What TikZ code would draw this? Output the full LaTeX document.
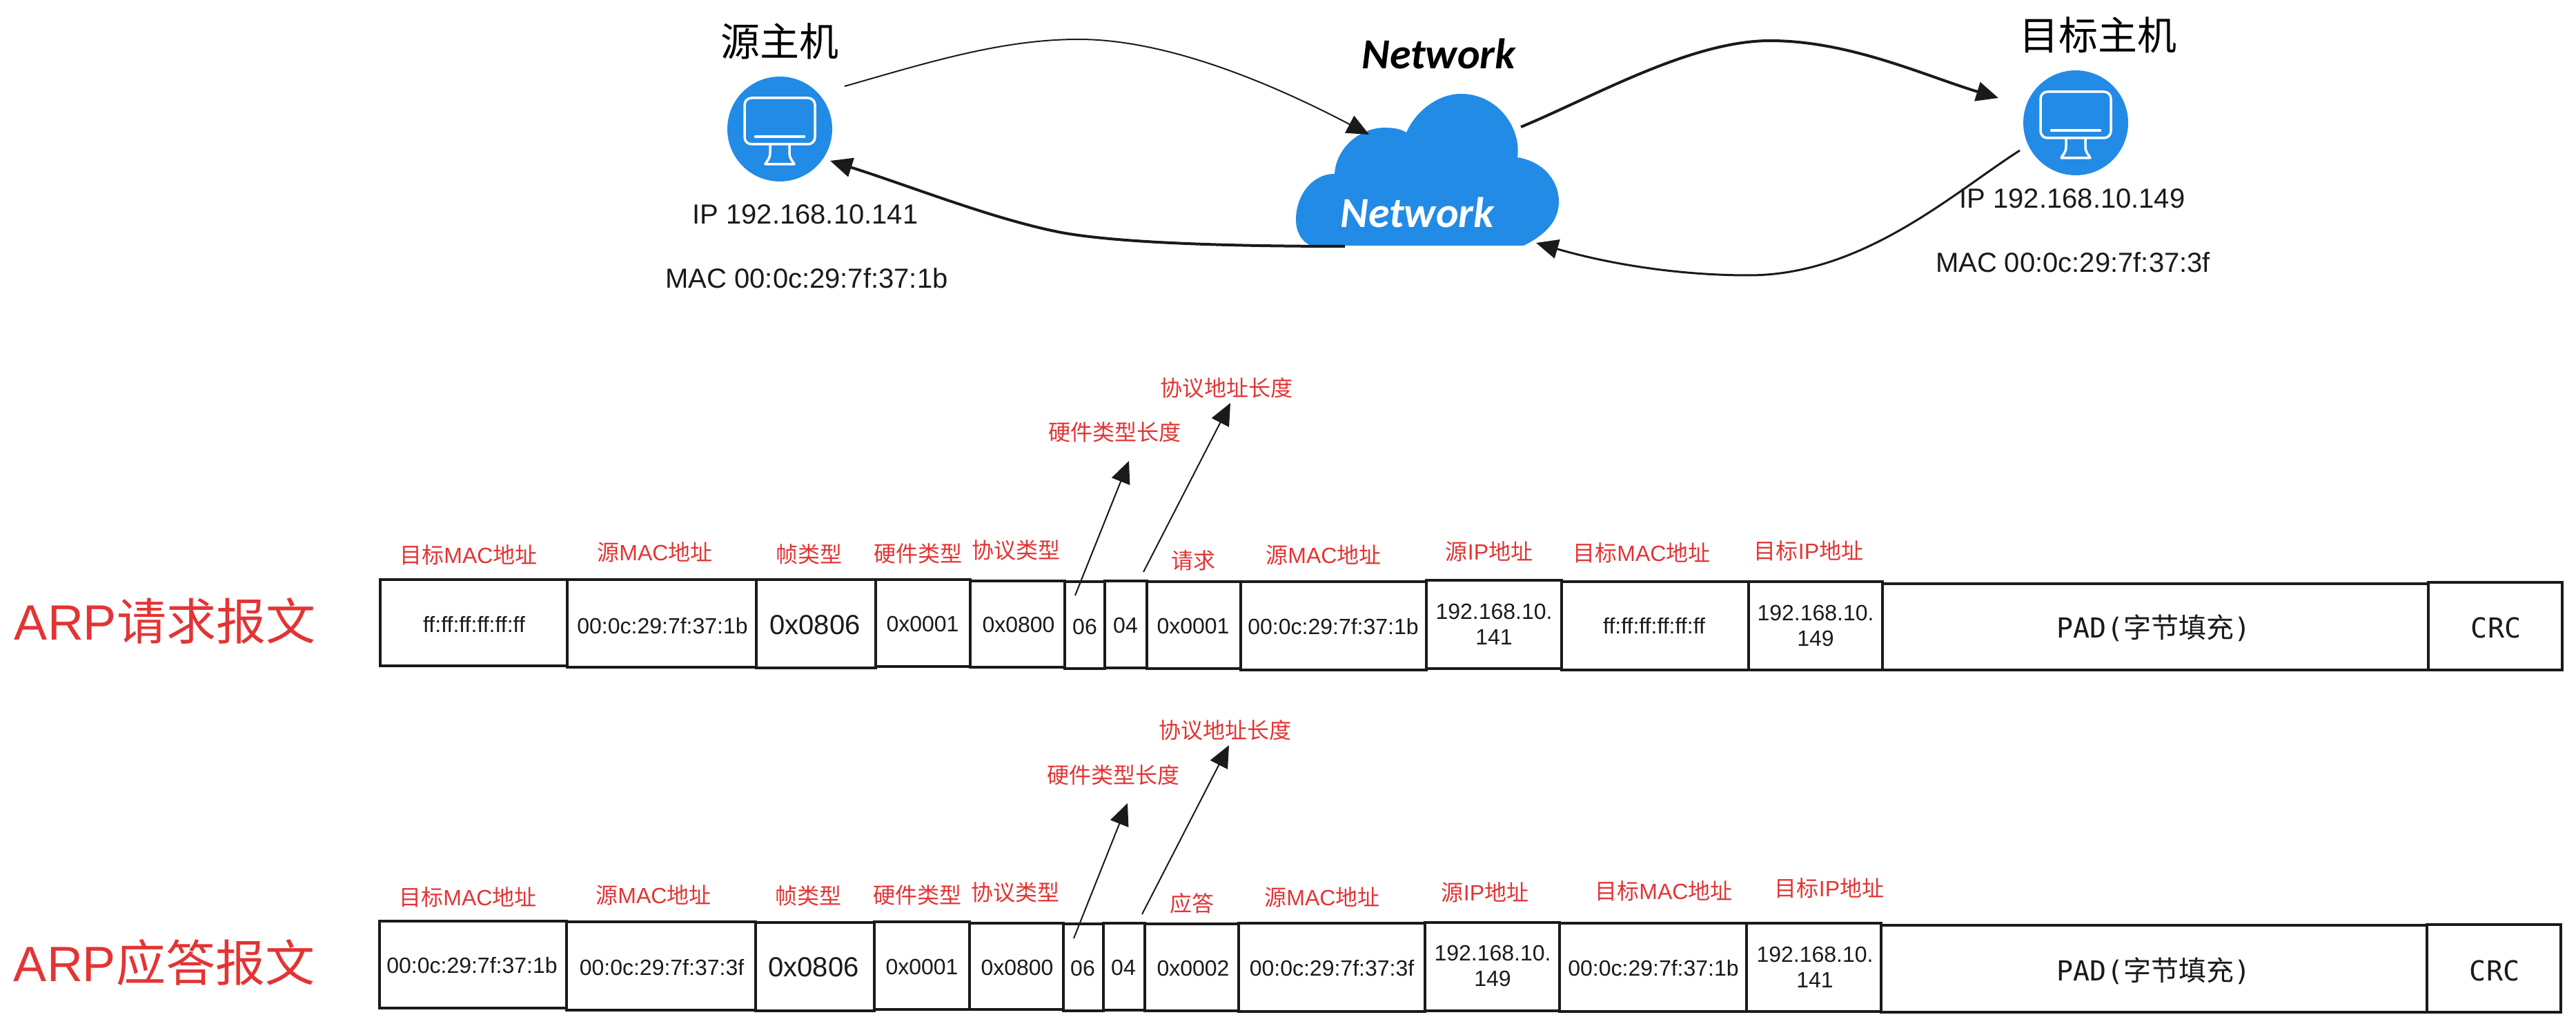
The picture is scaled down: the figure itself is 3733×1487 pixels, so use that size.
\documentclass[tikz,border=0pt]{standalone}
\usepackage{fontspec}
\setmainfont{Liberation Sans}
\newfontfamily\cj{Noto Sans CJK SC}
\newfontfamily\padfont{DejaVu Sans Mono}
\newfontfamily\handfont{Carlito}
\usetikzlibrary{arrows.meta}
\definecolor{inkc}{HTML}{1A1A1A}
\definecolor{redc}{HTML}{E33434}
\definecolor{bluec}{HTML}{228BE6}
\newcommand{\C}[1]{{\cj #1}}
\tikzset{
  fieldbox/.style={draw=inkc,line width=4.5pt,inner sep=0pt,fill=white},
  fieldtext/.style={text=inkc,inner sep=0pt,align=center,font=\fontsize{32}{37}\selectfont},
  fieldbig/.style={text=inkc,inner sep=0pt,font=\fontsize{40}{46}\selectfont},
  padtext/.style={text=inkc,inner sep=0pt,font=\fontsize{40}{46}\selectfont\padfont},
  redlabel/.style={text=redc,inner sep=0pt,font=\fontsize{32}{37}\selectfont},
  rowtitle/.style={text=redc,inner sep=0pt,font=\fontsize{72}{80}\selectfont},
  hosttitle/.style={text=black,inner sep=0pt,font=\fontsize{57}{64}\selectfont\cj},
  hostinfo/.style={text=inkc,inner sep=0pt,font=\fontsize{40}{46}\selectfont},
  handtext/.style={inner sep=0pt,font=\fontsize{62}{70}\selectfont\handfont\bfseries\itshape},
  host/.style={circle,fill=bluec,draw=none,minimum size=152pt,inner sep=0pt},
  tipped/.style={-{Triangle[length=32pt,width=28pt]},draw=inkc,line join=round},
  icon/.style={draw=white,line width=3.5pt,line join=round,line cap=round},
}
% name, x0, y0, x1, y1
\newcommand{\fld}[5]{\node[fieldbox,minimum width={(#4-#2)*1pt},minimum height={(#5-#3)*1pt}] (#1) at ({(#2+#4)/2},{(#3+#5)/2}) {};}
% name, style, x, y, text
\newcommand{\txt}[5]{\node[#2] (#1) at (#3,#4) {#5};}
\newcommand{\monitor}[2]{\begin{scope}[shift={(#1,#2)}]
  \draw[icon,rounded corners=10pt] (-51,-45) rectangle (51,22);
  \draw[icon,line width=4.5pt] (-35,11) -- (35,11);
  \draw[icon] (-14,22) -- (-14,34) .. controls (-14,44) and (-19,46) .. (-21,51) -- (21,51) .. controls (19,46) and (14,44) .. (14,34) -- (14,22);
\end{scope}}
\begin{document}
\begin{tikzpicture}[x=1pt,y=-1pt]
\useasboundingbox (0,0) rectangle (3733,1487);
% hosts
\node[host] (src) at (1130,187) {};
\monitor{1130}{187}
\node[host] (dst) at (3008,178) {};
\monitor{3008}{178}
\txt{srct}{hosttitle}{1130}{60}{源主机}
\txt{dstt}{hosttitle}{3040}{51}{目标主机}
\txt{srcip}{hostinfo}{1167}{311}{IP 192.168.10.141}
\txt{srcmac}{hostinfo}{1169}{403}{MAC 00:0c:29:7f:37:1b}
\txt{dstip}{hostinfo}{3003}{288}{IP 192.168.10.149}
\txt{dstmac}{hostinfo}{3004}{380}{MAC 00:0c:29:7f:37:3f}
% cloud
\fill[bluec] (1900,356) .. controls (1885,350) and (1878,335) .. (1878,318)
  .. controls (1878,285) and (1900,252) .. (1934,252)
  .. controls (1936,215) and (1970,185) .. (2007,185)
  .. controls (2020,185) and (2030,187) .. (2038,192)
  .. controls (2052,160) and (2085,136) .. (2117,136)
  .. controls (2170,136) and (2205,185) .. (2199,228)
  .. controls (2240,235) and (2259,265) .. (2259,292)
  .. controls (2259,320) and (2240,340) .. (2208,356) -- cycle;
\coordinate (cloudin) at (1984,195);
\coordinate (cloudout) at (1949,357);
\coordinate (cloudout2) at (2204,184);
\coordinate (cloudin2) at (2226,352);
\coordinate (srcout) at (1224,125);
\coordinate (srcin) at (1203,233);
\coordinate (dstin) at (2896,142);
\coordinate (dstout) at (2927,218);
\txt{nettop}{handtext,text=black}{2085}{78}{Network}
\txt{netin}{handtext,text=white}{2054}{308}{Network}
% curves
\draw[tipped,line width=2pt] (srcout) .. controls (1340,92) and (1450,57) .. (1563,57) .. controls (1700,57) and (1860,130) .. (cloudin);
\draw[tipped,line width=4pt] (cloudout) .. controls (1780,357) and (1620,352) .. (1538,337) .. controls (1440,318) and (1320,270) .. (srcin);
\draw[tipped,line width=4pt] (cloudout2) .. controls (2310,140) and (2450,59) .. (2565,59) .. controls (2680,59) and (2790,110) .. (dstin);
\draw[tipped,line width=3pt] (dstout) .. controls (2830,280) and (2700,399) .. (2534,399) .. controls (2440,399) and (2340,385) .. (cloudin2);
% request row
\txt{reqtitle}{rowtitle}{239}{900}{ARP\C{请求报文}}
\fld{a1}{551}{840}{822}{965}
\fld{a2}{822}{840}{1096}{967}
\fld{a3}{1096}{840}{1269}{968}
\fld{a4}{1269}{840}{1406}{966}
\fld{a5}{1406}{842}{1543}{967}
\fld{a6}{1543}{843}{1601}{969}
\fld{a7}{1601}{842}{1662}{968}
\fld{a8}{1662}{843}{1798}{969}
\fld{a9}{1798}{843}{2067}{971}
\fld{a10}{2067}{841}{2263}{969}
\fld{a11}{2263}{843}{2534}{971}
\fld{a12}{2534}{843}{2728}{971}
\fld{a13}{2728}{846}{3519}{971}
\fld{a14}{3519}{844}{3713}{971}
\txt{at1}{fieldtext}{687}{905}{ff:ff:ff:ff:ff:ff}
\txt{at2}{fieldtext}{960}{907}{00:0c:29:7f:37:1b}
\txt{at3}{fieldbig}{1181}{906}{0x0806}
\txt{at4}{fieldtext}{1337}{904}{0x0001}
\txt{at5}{fieldtext}{1476}{905}{0x0800}
\txt{at6}{fieldtext}{1572}{908}{06}
\txt{at7}{fieldtext}{1631}{906}{04}
\txt{at8}{fieldtext}{1729}{907}{0x0001}
\txt{at9}{fieldtext}{1932}{908}{00:0c:29:7f:37:1b}
\txt{at10}{fieldtext}{2165}{905}{192.168.10.\\141}
\txt{at11}{fieldtext}{2397}{907}{ff:ff:ff:ff:ff:ff}
\txt{at12}{fieldtext}{2631}{907}{192.168.10.\\149}
\txt{at13}{padtext}{3121}{910}{PAD(\C{字节填充})}
\txt{at14}{padtext}{3617}{910}{CRC}
\txt{al1}{redlabel}{679}{804}{\C{目标}MAC\C{地址}}
\txt{al2}{redlabel}{949}{800}{\C{源}MAC\C{地址}}
\txt{al3}{redlabel}{1172}{803}{\C{帧类型}}
\txt{al4}{redlabel}{1330}{802}{\C{硬件类型}}
\txt{al5}{redlabel}{1472}{797}{\C{协议类型}}
\txt{al8}{redlabel}{1729}{812}{\C{请求}}
\txt{al9}{redlabel}{1918}{804}{\C{源}MAC\C{地址}}
\txt{al10}{redlabel}{2158}{799}{\C{源}IP\C{地址}}
\txt{al11}{redlabel}{2379}{801}{\C{目标}MAC\C{地址}}
\txt{al12}{redlabel}{2621}{798}{\C{目标}IP\C{地址}}
\txt{al6}{redlabel}{1615}{626}{\C{硬件类型长度}}
\txt{al7}{redlabel}{1777}{562}{\C{协议地址长度}}
\coordinate (as6) at (1558,863);
\coordinate (ae6) at (1636,668);
\coordinate (as7) at (1657,829);
\coordinate (ae7) at (1783,584);
\draw[tipped,line width=2pt] (as6) -- (ae6);
\draw[tipped,line width=2pt] (as7) -- (ae7);
% reply row
\txt{reptitle}{rowtitle}{238}{1395}{ARP\C{应答报文}}
\fld{b1}{550}{1335}{821}{1461}
\fld{b2}{821}{1336}{1095}{1464}
\fld{b3}{1095}{1337}{1267}{1465}
\fld{b4}{1267}{1336}{1405}{1463}
\fld{b5}{1405}{1338}{1541}{1463}
\fld{b6}{1541}{1339}{1599}{1465}
\fld{b7}{1599}{1338}{1659}{1464}
\fld{b8}{1659}{1339}{1795}{1465}
\fld{b9}{1795}{1338}{2065}{1466}
\fld{b10}{2065}{1337}{2260}{1465}
\fld{b11}{2260}{1338}{2531}{1466}
\fld{b12}{2531}{1338}{2726}{1466}
\fld{b13}{2726}{1341}{3517}{1467}
\fld{b14}{3517}{1340}{3711}{1467}
\txt{bt1}{fieldtext}{684}{1399}{00:0c:29:7f:37:1b}
\txt{bt2}{fieldtext}{959}{1402}{00:0c:29:7f:37:3f}
\txt{bt3}{fieldbig}{1179}{1402}{0x0806}
\txt{bt4}{fieldtext}{1336}{1401}{0x0001}
\txt{bt5}{fieldtext}{1474}{1402}{0x0800}
\txt{bt6}{fieldtext}{1569}{1403}{06}
\txt{bt7}{fieldtext}{1628}{1402}{04}
\txt{bt8}{fieldtext}{1729}{1403}{0x0002}
\txt{bt9}{fieldtext}{1930}{1403}{00:0c:29:7f:37:3f}
\txt{bt10}{fieldtext}{2163}{1400}{192.168.10.\\149}
\txt{bt11}{fieldtext}{2396}{1403}{00:0c:29:7f:37:1b}
\txt{bt12}{fieldtext}{2630}{1402}{192.168.10.\\141}
\txt{bt13}{padtext}{3121}{1407}{PAD(\C{字节填充})}
\txt{bt14}{padtext}{3615}{1407}{CRC}
\txt{bl1}{redlabel}{678}{1300}{\C{目标}MAC\C{地址}}
\txt{bl2}{redlabel}{947}{1297}{\C{源}MAC\C{地址}}
\txt{bl3}{redlabel}{1171}{1298}{\C{帧类型}}
\txt{bl4}{redlabel}{1329}{1297}{\C{硬件类型}}
\txt{bl5}{redlabel}{1471}{1293}{\C{协议类型}}
\txt{bl8}{redlabel}{1727}{1309}{\C{应答}}
\txt{bl9}{redlabel}{1916}{1300}{\C{源}MAC\C{地址}}
\txt{bl10}{redlabel}{2152}{1293}{\C{源}IP\C{地址}}
\txt{bl11}{redlabel}{2411}{1291}{\C{目标}MAC\C{地址}}
\txt{bl12}{redlabel}{2651}{1287}{\C{目标}IP\C{地址}}
\txt{bl6}{redlabel}{1613}{1123}{\C{硬件类型长度}}
\txt{bl7}{redlabel}{1775}{1058}{\C{协议地址长度}}
\coordinate (bs6) at (1556,1360);
\coordinate (be6) at (1634,1164);
\coordinate (bs7) at (1655,1325);
\coordinate (be7) at (1781,1080);
\draw[tipped,line width=2pt] (bs6) -- (be6);
\draw[tipped,line width=2pt] (bs7) -- (be7);
\end{tikzpicture}
\end{document}
